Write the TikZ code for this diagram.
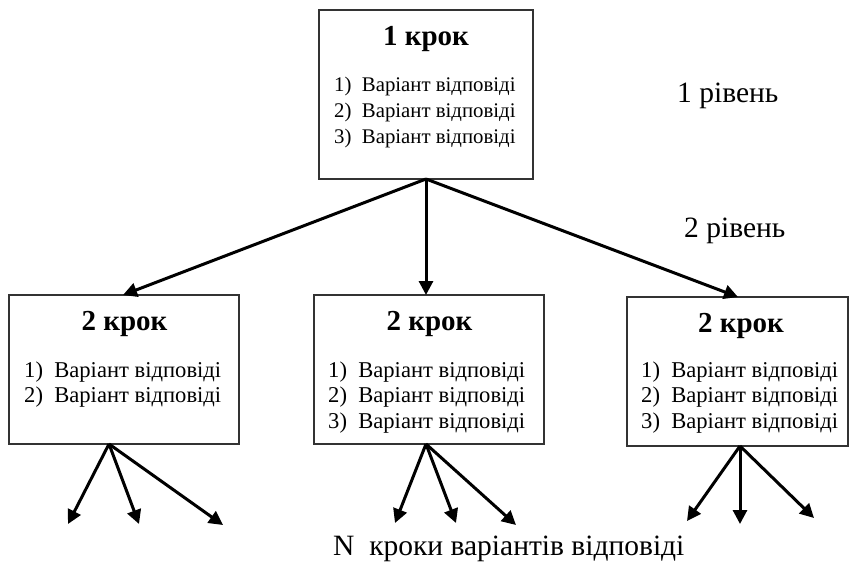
\documentclass[tikz,border=0pt]{standalone}
\usepackage{fontspec}
\setmainfont{Liberation Serif}
\usetikzlibrary{arrows.meta}
\tikzset{
  stepbox/.style={draw=black!80, line width=1.1pt, rectangle, inner sep=0pt, fill=white},
  steptitle/.style={font=\fontsize{29}{33}\selectfont\bfseries, inner sep=0pt, anchor=base},
  itemA/.style={font=\fontsize{20.8}{25}\selectfont, inner sep=0pt, anchor=base west},
  itemB/.style={font=\fontsize{22.6}{26}\selectfont, inner sep=0pt, anchor=base west},
  lvl/.style={font=\fontsize{29.5}{33}\selectfont, inner sep=0pt, anchor=base west},
  arr/.style={line width=3pt, -{Triangle[length=14pt, width=14pt]}},
}
\newcommand{\itm}[1]{#1)\hspace{0.5em}Варіант відповіді}
\begin{document}
\begin{tikzpicture}[x=1pt, y=-1pt]
\useasboundingbox (0,0) rectangle (849,562);
% boxes
\node[stepbox, minimum width=214pt, minimum height=169pt] (b1) at (426,94.5) {};
\node[stepbox, minimum width=230pt, minimum height=149pt] (b2) at (124,369.5) {};
\node[stepbox, minimum width=230pt, minimum height=149pt] (b3) at (429,369.5) {};
\node[stepbox, minimum width=221pt, minimum height=149pt] (b4) at (737.5,371.5) {};
% titles
\node[steptitle] (t1) at (426,45) {1 крок};
\node[steptitle] (t2) at (124.5,330) {2 крок};
\node[steptitle] (t3) at (429.5,330) {2 крок};
\node[steptitle] (t4) at (741,332) {2 крок};
% lists
\node[itemA] (l11) at (334,91) {\itm{1}};
\node[itemA] (l12) at (334,117) {\itm{2}};
\node[itemA] (l13) at (334,143) {\itm{3}};
\node[itemB] (l21) at (24,377) {\itm{1}};
\node[itemB] (l22) at (24,402.5) {\itm{2}};
\node[itemB] (l31) at (328,377) {\itm{1}};
\node[itemB] (l32) at (328,402.5) {\itm{2}};
\node[itemB] (l33) at (328,428) {\itm{3}};
\node[itemB] (l41) at (641,377) {\itm{1}};
\node[itemB] (l42) at (641,402.5) {\itm{2}};
\node[itemB] (l43) at (641,428) {\itm{3}};
% level labels
\node[lvl] (r1) at (677,102) {1 рівень};
\node[lvl] (r2) at (684,237) {2 рівень};
\node[lvl] (nlab) at (333,555) {N\ \ кроки варіантів відповіді};
% coordinates
\coordinate (o1) at (426,179);
\coordinate (i2) at (123,295);
\coordinate (i3) at (426,295);
\coordinate (i4) at (738,297);
\coordinate (o2) at (109,444);
\coordinate (o3) at (426,444);
\coordinate (o4) at (740,446);
\coordinate (e21) at (68,524);
\coordinate (e22) at (139,524);
\coordinate (e23) at (223,525);
\coordinate (e31) at (395,523);
\coordinate (e32) at (456,523);
\coordinate (e33) at (516,525);
\coordinate (e41) at (687,521);
\coordinate (e42) at (740,524);
\coordinate (e43) at (814,518);
% arrows
\draw[arr] (o1) -- (i2);
\draw[arr] (o1) -- (i3);
\draw[arr] (o1) -- (i4);
\draw[arr] (o2) -- (e21);
\draw[arr] (o2) -- (e22);
\draw[arr] (o2) -- (e23);
\draw[arr] (o3) -- (e31);
\draw[arr] (o3) -- (e32);
\draw[arr] (o3) -- (e33);
\draw[arr] (o4) -- (e41);
\draw[arr] (o4) -- (e42);
\draw[arr] (o4) -- (e43);
\end{tikzpicture}
\end{document}
